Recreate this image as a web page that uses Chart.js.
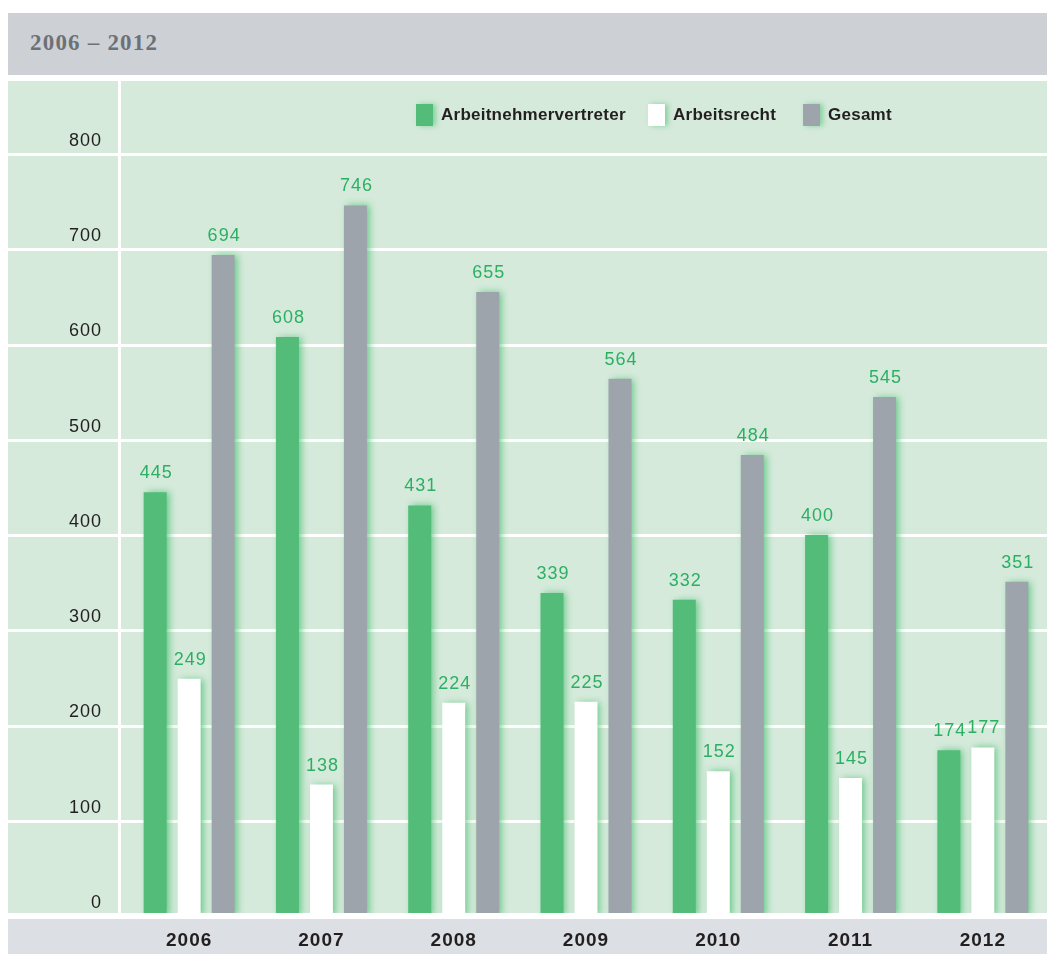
<!DOCTYPE html>
<html>
<head>
<meta charset="utf-8">
<script src="https://cdn.jsdelivr.net/npm/chart.js@4/dist/chart.umd.min.js"></script>
<style>
  html, body { margin: 0; padding: 0; background: #fff; }
  body { width: 1047px; height: 954px; position: relative; overflow: hidden; }
  #head {
    position: absolute; left: 8px; top: 13px; width: 1039px; height: 62px;
    background: #cdd1d5;
  }
  #head span {
    position: absolute; left: 22px; top: 17px;
    font: bold 23px "Liberation Serif", serif; color: #6d7176; letter-spacing: 1.2px;
  }
  #wrap { position: absolute; left: 2px; top: 0; width: 1047px; height: 954px; }
  #legend {
    position: absolute; left: 0; top: 104px; width: 1047px; height: 22px;
    font: bold 17px "Liberation Sans", Arial, sans-serif; color: #231f20; letter-spacing: 0.25px;
  }
  #legend .item { position: absolute; top: 0; display: flex; align-items: center; height: 22px; white-space: nowrap; }
  #legend .box { width: 17px; height: 22px; margin-right: 8px; box-shadow: 3px 0 5px rgba(70,190,110,0.55); }
</style>
</head>
<body>
<div id="wrap"><canvas id="chart" width="1047" height="954"></canvas></div>
<div id="head"><span>2006 – 2012</span></div>
<div id="legend"></div>
<script>
// values
const years = ["2006", "2007", "2008", "2009", "2010", "2011", "2012"];
const vertreter = [445, 608, 431, 339, 332, 400, 174];
const arbeitsrecht = [249, 138, 224, 225, 152, 145, 177];
const gesamt = [694, 746, 655, 564, 484, 545, 351];
const seriesNames = ["Arbeitnehmervertreter", "Arbeitsrecht", "Gesamt"];
const seriesColors = ["#52bc78", "#ffffff", "#9ea4ab"];
const legendLeft = [416, 648, 803];

const FONT = '"Liberation Sans", Arial, sans-serif';
const BG_GREEN = "#d5eadb";
const OFF = 2; // canvas is shifted 2px right

// html legend
const legend = document.getElementById("legend");
seriesNames.forEach((name, i) => {
  const item = document.createElement("div");
  item.className = "item";
  item.style.left = legendLeft[i] + "px";
  item.innerHTML = `<div class="box" style="background:${seriesColors[i]}"></div><span>${name}</span>`;
  legend.appendChild(item);
});

// panel backgrounds, white grid lines, glow on bars
const panel = {
  id: "panel",
  beforeDraw(chart) {
    const ctx = chart.ctx;
    ctx.letterSpacing = "1px";
    ctx.save();
    ctx.fillStyle = BG_GREEN;
    ctx.fillRect(8 - OFF, 81, 1039, 832);
    ctx.fillStyle = "#dcdfe3";
    ctx.fillRect(8 - OFF, 919, 1039, 35);
    ctx.restore();
  },
  beforeDatasetsDraw(chart) {
    const ctx = chart.ctx;
    const y = chart.scales.y;
    ctx.save();
    ctx.strokeStyle = "#ffffff";
    ctx.lineWidth = 3;
    for (const t of y.ticks) {
      const py = Math.round(y.getPixelForValue(t.value)) + 0.5;
      ctx.beginPath();
      ctx.moveTo(8 - OFF, py);
      ctx.lineTo(1047, py);
      ctx.stroke();
    }
    ctx.beginPath();
    ctx.moveTo(119.5 - OFF, 81);
    ctx.lineTo(119.5 - OFF, 913);
    ctx.stroke();
    ctx.restore();
    ctx.save();
    ctx.shadowColor = "rgba(70,190,110,0.75)";
    ctx.shadowBlur = 7;
    ctx.shadowOffsetX = 3;
  },
  afterDatasetsDraw(chart) {
    const ctx = chart.ctx;
    ctx.restore();
    ctx.save();
    ctx.fillStyle = "#ffffff";
    ctx.fillRect(8 - OFF, 913, 1039, 6);
    ctx.font = "18px " + FONT;
    ctx.fillStyle = "#2bb063";
    ctx.textAlign = "center";
    ctx.textBaseline = "alphabetic";
    chart.data.datasets.forEach((ds, di) => {
      chart.getDatasetMeta(di).data.forEach((bar, i) => {
        ctx.fillText(String(ds.data[i]), bar.x + 1, bar.y - 14);
      });
    });
    ctx.restore();
  }
};

new Chart(document.getElementById("chart"), {
  type: "bar",
  data: {
    labels: years,
    datasets: [
      { label: seriesNames[0], data: vertreter, backgroundColor: seriesColors[0] },
      { label: seriesNames[1], data: arbeitsrecht, backgroundColor: seriesColors[1] },
      { label: seriesNames[2], data: gesamt, backgroundColor: seriesColors[2] }
    ]
  },
  options: {
    responsive: false,
    animation: false,
    layout: { padding: { top: 154, right: 0, left: 0, bottom: 0 } },
    datasets: { bar: { categoryPercentage: 0.771, barPercentage: 0.676 } },
    plugins: { legend: { display: false }, tooltip: { enabled: false } },
    scales: {
      x: {
        grid: { display: false, drawTicks: false },
        border: { display: false },
        ticks: { color: "#231f20", font: { family: FONT, size: 19, weight: "bold" }, padding: 13 },
        afterFit(s) { s.height = 38; }
      },
      y: {
        min: 0, max: 800,
        grid: { display: false, drawTicks: false },
        border: { display: false },
        ticks: { stepSize: 100, color: "#231f20", font: { family: FONT, size: 18 }, padding: 21, labelOffset: -13 },
        afterFit(s) { s.width = 121; }
      }
    }
  },
  plugins: [panel]
});
</script>
</body>
</html>
